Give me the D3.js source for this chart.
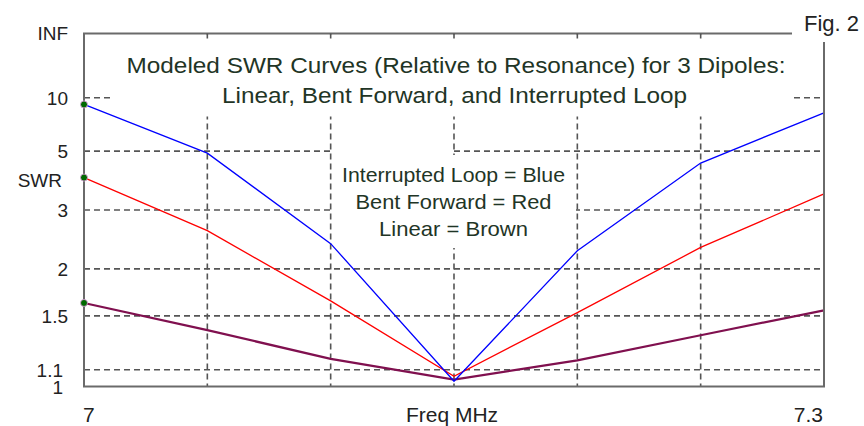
<!DOCTYPE html>
<html>
<head>
<meta charset="utf-8">
<script src="https://cdn.jsdelivr.net/npm/d3@7"></script>
<style>
  html, body { margin: 0; padding: 0; background: #fff; }
  svg { display: block; font-family: "Liberation Sans", Arial, sans-serif; }
</style>
</head>
<body>
<svg id="chart" width="864" height="426"></svg>
<script>
// frequency points (MHz)
const freqs = [7.0, 7.05, 7.1, 7.15, 7.2, 7.25, 7.3]

// modeled SWR
const interruptedLoop = [8.95, 4.9, 2.36, 1.03, 2.25, 4.45, 7.9]
const bentForward = [3.9, 2.58, 1.64, 1.06, 1.53, 2.3, 3.4]
const linear = [1.62, 1.38, 1.17, 1.04, 1.16, 1.34, 1.55]

const swrTicks = [1.1, 1.5, 2, 3, 5, 10]
const swrLabels = ['1', '1.1', '1.5', '2', '3', '5', '10', 'INF']
const freqGrid = [7.05, 7.1, 7.15, 7.2, 7.25]

const titleLines = ['Modeled SWR Curves (Relative to Resonance) for 3 Dipoles:',
    'Linear, Bent Forward, and Interrupted Loop']
const legendLines = ['Interrupted Loop = Blue', 'Bent Forward = Red', 'Linear = Brown']

const series = [
    { name: 'Linear', values: linear, color: '#80104f', width: 2.2 },
    { name: 'Bent Forward', values: bentForward, color: '#ff0000', width: 1.3 },
    { name: 'Interrupted Loop', values: interruptedLoop, color: '#0000ff', width: 1.3 }
]

const plotLeft = 84, plotRight = 824, plotTop = 33.5, plotBottom = 386.5
const textColor = '#1f3526'

const svg = d3.select('#chart')

const x = d3.scaleLinear().domain([7.0, 7.3]).range([plotLeft, plotRight])
// SWR axis is linear in reflection coefficient: rho = (s-1)/(s+1)
const rho = d3.scaleLinear().domain([0, 1]).range([plotBottom, plotTop])
const toRho = (s) => s === 'INF' ? 1 : (+s - 1) / (+s + 1)
const y = (s) => rho(toRho(s))

// grid
const grid = svg.append('g')
    .attr('stroke', '#555')
    .attr('stroke-width', 1.6)
    .attr('stroke-dasharray', '6,4')

grid.selectAll('line.h')
    .data(swrTicks)
    .enter().append('line')
    .attr('class', 'h')
    .attr('x1', plotLeft).attr('x2', plotRight)
    .attr('y1', (d) => y(d)).attr('y2', (d) => y(d))

grid.selectAll('line.v')
    .data(freqGrid)
    .enter().append('line')
    .attr('class', 'v')
    .attr('x1', (d) => x(d)).attr('x2', (d) => x(d))
    .attr('y1', plotTop).attr('y2', plotBottom)

// white boxes behind the text blocks hide the grid
svg.append('rect')
    .attr('x', 113).attr('y', plotTop + 1)
    .attr('width', 680).attr('height', 82)
    .attr('fill', '#fff')

svg.append('rect')
    .attr('x', 332).attr('y', 155)
    .attr('width', 244).attr('height', 93)
    .attr('fill', '#fff')

svg.append('rect')
    .attr('x', 332).attr('y', 148)
    .attr('width', 120).attr('height', 8)
    .attr('fill', '#fff')

// curves
const line = d3.line()
    .x((d, i) => x(freqs[i]))
    .y((d) => y(d))

svg.selectAll('path.curve')
    .data(series)
    .enter().append('path')
    .attr('class', 'curve')
    .attr('d', (d) => line(d.values))
    .attr('fill', 'none')
    .attr('stroke', (d) => d.color)
    .attr('stroke-width', (d) => d.width)

// frame
svg.append('rect')
    .attr('x', plotLeft).attr('y', plotTop)
    .attr('width', plotRight - plotLeft).attr('height', plotBottom - plotTop)
    .attr('fill', 'none')
    .attr('stroke', '#6a6a6a')
    .attr('stroke-width', 2)

// small ticks on the top edge
svg.selectAll('line.tick')
    .data(freqGrid)
    .enter().append('line')
    .attr('x1', (d) => x(d)).attr('x2', (d) => x(d))
    .attr('y1', plotTop).attr('y2', plotTop + 5)
    .attr('stroke', '#555').attr('stroke-width', 1.6)

// start markers
svg.selectAll('circle.start')
    .data(series)
    .enter().append('circle')
    .attr('cx', x(freqs[0]))
    .attr('cy', (d) => y(d.values[0]))
    .attr('r', 3.5)
    .attr('fill', '#006a00')
    .attr('stroke', '#e9a0e9')
    .attr('stroke-width', 0.8)

// corner label
svg.append('rect')
    .attr('x', 792).attr('y', 0)
    .attr('width', 72).attr('height', 42)
    .attr('fill', '#fff')

svg.append('text')
    .attr('x', 804).attr('y', 31)
    .style('font-size', '22px')
    .attr('fill', '#222')
    .text('Fig. 2')

// y labels
svg.selectAll('text.ylab')
    .data(swrLabels)
    .enter().append('text')
    .attr('class', 'ylab')
    .attr('x', (d) => (d === '1' || d === '1.1') ? 63 : 68)
    .attr('y', (d) => y(d === 'INF' ? d : +d) + (d === '1' ? 1 : 0))
    .attr('dy', '0.36em')
    .attr('text-anchor', 'end')
    .style('font-size', '19px')
    .attr('fill', '#222')
    .text((d) => d)

svg.append('text')
    .attr('x', 62).attr('y', 180)
    .attr('dy', '0.36em')
    .attr('text-anchor', 'end')
    .style('font-size', '19px')
    .attr('fill', '#222')
    .text('SWR')

// x labels
svg.append('text')
    .attr('x', plotLeft - 1).attr('y', 422)
    .style('font-size', '21px')
    .attr('fill', '#222')
    .text('7')

svg.append('text')
    .attr('x', plotRight - 1).attr('y', 422)
    .attr('text-anchor', 'end')
    .style('font-size', '21px')
    .attr('fill', '#222')
    .text('7.3')

svg.append('text')
    .attr('x', 452).attr('y', 422)
    .attr('text-anchor', 'middle')
    .style('font-size', '21px')
    .attr('fill', '#222')
    .text('Freq MHz')

// title and legend blocks
const titleWidths = [659, 465]
svg.selectAll('text.title')
    .data(titleLines)
    .enter().append('text')
    .attr('class', 'title')
    .attr('x', (d, i) => i === 0 ? 456 : 454.5)
    .attr('y', (d, i) => 73 + i * 30)
    .attr('text-anchor', 'middle')
    .attr('textLength', (d, i) => titleWidths[i])
    .attr('lengthAdjust', 'spacingAndGlyphs')
    .style('font-size', '22px')
    .attr('fill', textColor)
    .text((d) => d)

const legendWidths = [223, 196, 149]
svg.selectAll('text.legend')
    .data(legendLines)
    .enter().append('text')
    .attr('class', 'legend')
    .attr('x', 453.5)
    .attr('y', (d, i) => 182 + i * 27)
    .attr('text-anchor', 'middle')
    .attr('textLength', (d, i) => legendWidths[i])
    .attr('lengthAdjust', 'spacingAndGlyphs')
    .style('font-size', '21px')
    .attr('fill', textColor)
    .text((d) => d)
</script>
</body>
</html>
